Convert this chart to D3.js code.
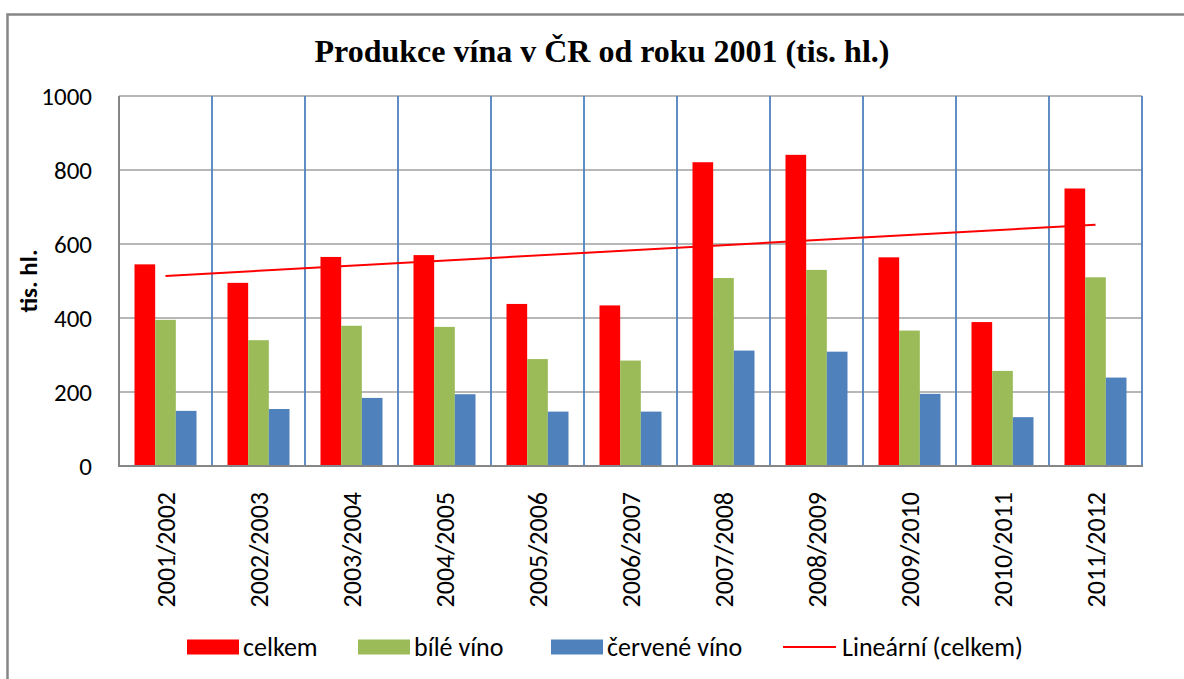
<!DOCTYPE html>
<html>
<head>
<meta charset="utf-8">
<script src="https://cdn.jsdelivr.net/npm/d3@7"></script>
<style>
    body { margin: 0; background: #fff; }
    svg text { font-family: Calibri, Carlito, Lato, sans-serif; fill: #000; }
</style>
</head>
<body>
<svg id="chart" width="1184" height="679"></svg>
<script>
'use strict';

var seasons = ['2001/2002', '2002/2003', '2003/2004', '2004/2005', '2005/2006', '2006/2007',
    '2007/2008', '2008/2009', '2009/2010', '2010/2011', '2011/2012']
var celkem = [545, 495, 565, 570, 438, 434, 821, 841, 564, 389, 750]
var bileVino = [395, 340, 379, 376, 289, 285, 508, 530, 366, 257, 510]
var cerveneVino = [149, 154, 184, 194, 147, 147, 312, 309, 195, 132, 239]
var yTicks = [0, 200, 400, 600, 800, 1000]

var seriesNames = ['celkem', 'bílé víno', 'červené víno']
var seriesColors = ['#ff0000', '#9bbb59', '#4f81bd']
var seriesValues = [celkem, bileVino, cerveneVino]

var chart = (function() {
    var svg = d3.select('#chart')
    var left = 119, right = 1142, top = 96, bottom = 466

    var x0 = d3.scaleBand().domain(seasons).range([left, right])
    var x1 = d3.scaleBand().domain(seriesNames).range([0, x0.bandwidth()]).paddingOuter(0.75)
    var y = d3.scaleLinear().domain([0, 1000]).range([bottom, top])

    function drawFrame() {
        svg.append('rect')
            .attr('x', 7.5).attr('y', 14.5)
            .attr('width', 1400).attr('height', 900)
            .attr('fill', 'none')
            .attr('stroke', '#868686')
            .attr('stroke-width', 2.5)

        svg.append('text')
            .attr('x', 602).attr('y', 62)
            .attr('text-anchor', 'middle')
            .style('font-family', '"Times New Roman", "Liberation Serif", serif')
            .style('font-weight', 'bold')
            .style('font-size', '32px')
            .text('Produkce vína v ČR od roku 2001 (tis. hl.)')
    }

    function drawGrid() {
        svg.append('g').selectAll('line')
            .data(yTicks.filter(function(d) { return d > 0 }))
            .enter().append('line')
            .attr('x1', left).attr('x2', right)
            .attr('y1', function(d) { return y(d) }).attr('y2', function(d) { return y(d) })
            .attr('stroke', '#b7b7b7')
            .attr('stroke-width', 2)

        svg.append('g').selectAll('line')
            .data(seasons)
            .enter().append('line')
            .attr('x1', function(d) { return x0(d) + x0.bandwidth() })
            .attr('x2', function(d) { return x0(d) + x0.bandwidth() })
            .attr('y1', top).attr('y2', bottom)
            .attr('stroke', '#4f81bd')
            .attr('stroke-width', 1.8)
    }

    function drawBars() {
        var groups = svg.append('g').selectAll('g')
            .data(seriesNames)
            .enter().append('g')
            .attr('fill', function(d, i) { return seriesColors[i] })

        groups.selectAll('rect')
            .data(function(d, i) {
                return seasons.map(function(s, j) { return { series: d, season: s, value: seriesValues[i][j] } })
            })
            .enter().append('rect')
            .attr('x', function(d) { return x0(d.season) + x1(d.series) })
            .attr('width', x1.bandwidth())
            .attr('y', function(d) { return y(d.value) })
            .attr('height', function(d) { return bottom - y(d.value) })
    }

    function drawTrend() {
        // least squares fit over category index, like the Excel trendline
        var n = celkem.length
        var mx = d3.mean(celkem, function(d, i) { return i })
        var my = d3.mean(celkem)
        var sxy = d3.sum(celkem, function(d, i) { return (i - mx) * (d - my) })
        var sxx = d3.sum(celkem, function(d, i) { return (i - mx) * (i - mx) })
        var slope = sxy / sxx
        var ends = [0, n - 1].map(function(i) { return { i: i, v: my + slope * (i - mx) } })

        svg.append('path')
            .datum(ends)
            .attr('fill', 'none')
            .attr('stroke', '#ff0000')
            .attr('stroke-width', 2)
            .attr('d', d3.line()
                .x(function(d) { return x0(seasons[d.i]) + x0.bandwidth() / 2 })
                .y(function(d) { return y(d.v) }))
    }

    function drawAxes() {
        svg.append('line')
            .attr('x1', left).attr('x2', left).attr('y1', top).attr('y2', bottom + 1)
            .attr('stroke', '#868686').attr('stroke-width', 2)
        svg.append('line')
            .attr('x1', left).attr('x2', right + 1).attr('y1', bottom).attr('y2', bottom)
            .attr('stroke', '#868686').attr('stroke-width', 2)

        var yAxis = svg.append('g')
            .attr('transform', 'translate(' + left + ',0)')
            .call(d3.axisLeft(y).tickValues(yTicks).tickFormat(d3.format('d')).tickSize(0).tickPadding(27))
        yAxis.select('.domain').remove()
        yAxis.selectAll('text')
            .style('font-family', 'Calibri, Carlito, Lato, sans-serif')
            .style('font-size', '25px')

        var xAxis = svg.append('g')
            .attr('transform', 'translate(0,' + bottom + ')')
            .call(d3.axisBottom(x0).tickSize(0))
        xAxis.select('.domain').remove()
        xAxis.selectAll('text')
            .attr('transform', 'rotate(-90)')
            .attr('x', -26)
            .attr('y', 0)
            .attr('dy', '0.35em')
            .attr('text-anchor', 'end')
            .style('font-family', 'Calibri, Carlito, Lato, sans-serif')
            .style('font-size', '26px')

        svg.append('text')
            .attr('transform', 'translate(37,' + ((top + bottom) / 2) + ') rotate(-90)')
            .attr('text-anchor', 'middle')
            .style('font-weight', 'bold')
            .style('font-size', '25px')
            .text('tis. hl.')
    }

    function drawLegend() {
        var items = [
            { label: 'celkem', color: seriesColors[0], x: 187, type: 'rect' },
            { label: 'bílé víno', color: seriesColors[1], x: 358, type: 'rect' },
            { label: 'červené víno', color: seriesColors[2], x: 551, type: 'rect' },
            { label: 'Lineární (celkem)', color: '#ff0000', x: 783, type: 'line' }
        ]
        var legend = svg.append('g').selectAll('g')
            .data(items)
            .enter().append('g')
            .attr('transform', function(d) { return 'translate(' + d.x + ',647)' })

        legend.filter(function(d) { return d.type === 'rect' })
            .append('rect')
            .attr('x', 0).attr('y', -7.5)
            .attr('width', 52).attr('height', 15)
            .attr('fill', function(d) { return d.color })

        legend.filter(function(d) { return d.type === 'line' })
            .append('line')
            .attr('x1', 0).attr('x2', 53).attr('y1', 0).attr('y2', 0)
            .attr('stroke', function(d) { return d.color })
            .attr('stroke-width', 2)

        legend.append('text')
            .attr('x', function(d) { return d.type === 'rect' ? 56 : 59 })
            .attr('y', 0)
            .attr('dy', '0.35em')
            .style('font-size', '26px')
            .text(function(d) { return d.label })
    }

    return {
        render: function() {
            drawFrame()
            drawGrid()
            drawBars()
            drawTrend()
            drawAxes()
            drawLegend()
        }
    }
}())

chart.render()
</script>
</body>
</html>
